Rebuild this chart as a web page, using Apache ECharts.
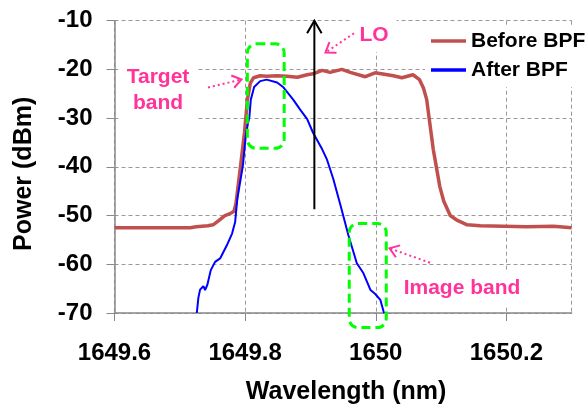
<!DOCTYPE html>
<html>
<head>
<meta charset="utf-8">
<script src="https://cdn.jsdelivr.net/npm/echarts@6/dist/echarts.min.js"></script>
<style>
  html, body { margin: 0; padding: 0; background: #fff; }
  #chart { width: 586px; height: 410px; }
</style>
</head>
<body>
<div id="chart"></div>
<script>
// Optical spectrum around the local oscillator, before and after the band-pass filter
const seriesNames = ['Before BPF', 'After BPF'];

const beforeWavelength = [1649.600, 1649.654, 1649.716, 1649.725, 1649.743, 1649.751, 1649.759, 1649.769,
  1649.777, 1649.783, 1649.786, 1649.793, 1649.799, 1649.8035, 1649.808, 1649.813, 1649.823, 1649.833,
  1649.849, 1649.864, 1649.880, 1649.895, 1649.904, 1649.918, 1649.930, 1649.948, 1649.961, 1649.984,
  1649.999, 1650.027, 1650.040, 1650.057, 1650.067, 1650.073, 1650.078, 1650.088, 1650.098, 1650.104,
  1650.114, 1650.125, 1650.140, 1650.160, 1650.231, 1650.272, 1650.300];
const beforePower = [-52.5, -52.5, -52.5, -52.3, -52.1, -51.9, -51.1, -50.0,
  -49.6, -49.1, -47.5, -39.8, -33.0, -26.2, -22.8, -21.7, -21.3, -21.4,
  -21.3, -21.4, -21.6, -21.1, -20.9, -20.2, -20.6, -20.0, -20.6, -21.5,
  -20.7, -21.3, -21.7, -21.1, -22.1, -23.8, -26.2, -36.4, -44.0, -47.0,
  -50.0, -51.0, -51.9, -52.1, -52.3, -52.2, -52.5];

const afterWavelength = [1649.726, 1649.7284, 1649.731, 1649.7361, 1649.7387, 1649.7422, 1649.7474, 1649.754,
  1649.7617, 1649.772, 1649.780, 1649.7847, 1649.788, 1649.7965, 1649.8015, 1649.8066, 1649.8087, 1649.8138,
  1649.823, 1649.833, 1649.849, 1649.858, 1649.8736, 1649.884, 1649.895, 1649.904, 1649.918, 1649.925,
  1649.935, 1649.946, 1649.958, 1649.971, 1649.981, 1649.992, 1649.9992, 1650.002, 1650.007, 1650.012, 1650.013];
const afterPower = [-70.0, -66.9, -65.2, -64.5, -65.3, -64.2, -61.2, -59.5,
  -58.8, -56.1, -53.7, -51.3, -46.6, -39.8, -33.0, -29.6, -26.2, -23.6,
  -22.4, -22.1, -22.7, -23.6, -26.2, -28.2, -30.2, -33.0, -36.4, -38.4,
  -42.5, -47.9, -54.0, -59.8, -61.8, -65.3, -66.1, -65.8, -67.3, -69.7, -70.0];

// Axis ranges and tick step
const xRange = [1649.6, 1650.3];
const xStep = 0.2;
const yRange = [-70, -10];
const yStep = 10;

// Local oscillator line and the two marked bands (wavelength, dBm)
const loWavelength = 1649.906;
const loPower = [-48.7, -10];
const targetBand = { wavelength: [1649.8034, 1649.8598], power: [-14.75, -36.2] };
const imageBand = { wavelength: [1649.9594, 1650.0161], power: [-51.65, -73.0] };

const FONT = 'Arial, "Liberation Sans", Helvetica, sans-serif';
const PINK = '#FF3399';

const zip = (xs, ys) => xs.map((x, i) => [x, ys[i]]);

const chart = echarts.init(document.getElementById('chart'), null, { renderer: 'canvas' });

chart.setOption({
  animation: false,
  backgroundColor: '#fff',
  grid: { left: 114.5, right: 14.3, top: 20.7, bottom: 95 },
  legend: {
    data: seriesNames,
    orient: 'vertical',
    left: 425,
    top: 26,
    padding: [4, 2, 6, 6],
    itemGap: 7,
    itemWidth: 35,
    itemHeight: 3.5,
    icon: 'rect',
    backgroundColor: '#fff',
    textStyle: { fontFamily: FONT, fontSize: 21, fontWeight: 'bold', color: '#000', lineHeight: 22 }
  },
  xAxis: {
    type: 'value',
    min: xRange[0],
    max: xRange[1],
    interval: xStep,
    name: 'Wavelength (nm)',
    nameLocation: 'middle',
    nameGap: 67,
    nameTextStyle: { fontFamily: FONT, fontSize: 25, fontWeight: 'bold', color: '#000', padding: [0, 0, 0, 6] },
    axisLine: { show: true, onZero: false, lineStyle: { color: '#888', width: 1.5 } },
    axisTick: { show: true, length: 8, lineStyle: { color: '#888', width: 1 } },
    axisLabel: {
      margin: 28,
      fontFamily: FONT, fontSize: 24, fontWeight: 'bold', color: '#000',
      formatter: v => String(+v.toFixed(1))
    },
    splitLine: { show: true, lineStyle: { color: '#999', type: [4, 3], width: 1 } }
  },
  yAxis: {
    type: 'value',
    min: yRange[0],
    max: yRange[1],
    interval: yStep,
    name: 'Power (dBm)',
    nameLocation: 'middle',
    nameGap: 78,
    nameTextStyle: { fontFamily: FONT, fontSize: 25, fontWeight: 'bold', color: '#000', padding: [0, 14, 0, 0] },
    axisLine: { show: true, onZero: false, lineStyle: { color: '#888', width: 1.5 } },
    axisTick: { show: true, length: 8, lineStyle: { color: '#888', width: 1 } },
    axisLabel: { margin: 22, fontFamily: FONT, fontSize: 24, fontWeight: 'bold', color: '#000' },
    splitLine: { show: true, lineStyle: { color: '#999', type: [4, 3], width: 1 } }
  },
  series: [
    {
      name: seriesNames[0],
      type: 'line',
      data: zip(beforeWavelength, beforePower),
      symbol: 'none',
      lineStyle: { color: '#C0504D', width: 3.5 },
      itemStyle: { color: '#C0504D' },
      z: 3
    },
    {
      name: seriesNames[1],
      type: 'line',
      data: zip(afterWavelength, afterPower),
      symbol: 'none',
      lineStyle: { color: '#0000FF', width: 2 },
      itemStyle: { color: '#0000FF' },
      z: 4
    }
  ]
});

// ---- annotations ----
const px = (x, y) => chart.convertToPixel({ gridIndex: 0 }, [x, y]);

// Open "V" arrow head at tip, pointing away from 'from'
function arrowHead(tip, from, len, halfAngleDeg) {
  const ang = Math.atan2(from[1] - tip[1], from[0] - tip[0]);
  const h = halfAngleDeg * Math.PI / 180;
  return [
    [tip[0] + len * Math.cos(ang + h), tip[1] + len * Math.sin(ang + h)],
    tip,
    [tip[0] + len * Math.cos(ang - h), tip[1] + len * Math.sin(ang - h)]
  ];
}

function bandRect(band) {
  const a = px(band.wavelength[0], band.power[0]);
  const b = px(band.wavelength[1], band.power[1]);
  return {
    type: 'rect',
    z: 20,
    shape: { x: a[0], y: a[1], width: b[0] - a[0], height: b[1] - a[1], r: 9 },
    style: { fill: 'none', stroke: '#00FF00', lineWidth: 3, lineDash: [9, 5] }
  };
}

function dottedArrow(from, to) {
  return [
    {
      type: 'polyline', z: 25,
      shape: { points: [from, to] },
      style: { stroke: PINK, lineWidth: 2, lineDash: [2, 3], fill: 'none' }
    },
    {
      type: 'polyline', z: 25,
      shape: { points: arrowHead(to, from, 11, 35) },
      style: { stroke: PINK, lineWidth: 2, fill: 'none' }
    }
  ];
}

function label(text, x, y) {
  return {
    type: 'text', z: 15,
    style: {
      text, x, y,
      fill: PINK,
      font: 'bold 21px ' + FONT,
      align: 'center',
      verticalAlign: 'middle',
      lineHeight: 26,
      backgroundColor: '#fff',
      padding: [5, 8, 3, 8]
    }
  };
}

const loBottom = px(loWavelength, loPower[0]);
const loTop = px(loWavelength, loPower[1]);

const graphics = [
  label('Target\nband', 158, 90),
  label('LO', 374, 35),
  label('Image band', 462, 288),
  bandRect(targetBand),
  bandRect(imageBand),
  {
    type: 'polyline', z: 22,
    shape: { points: [loBottom, loTop] },
    style: { stroke: '#000', lineWidth: 2, fill: 'none' }
  },
  {
    type: 'polyline', z: 22,
    shape: { points: arrowHead(loTop, loBottom, 14.5, 30) },
    style: { stroke: '#000', lineWidth: 2, fill: 'none' }
  },
  ...dottedArrow([208, 87.5], [241.5, 79.5]),
  ...dottedArrow([354, 33.3], [325.5, 52.5]),
  ...dottedArrow([430, 262.7], [389.5, 248.3])
];

chart.setOption({ graphic: graphics });
</script>
</body>
</html>
